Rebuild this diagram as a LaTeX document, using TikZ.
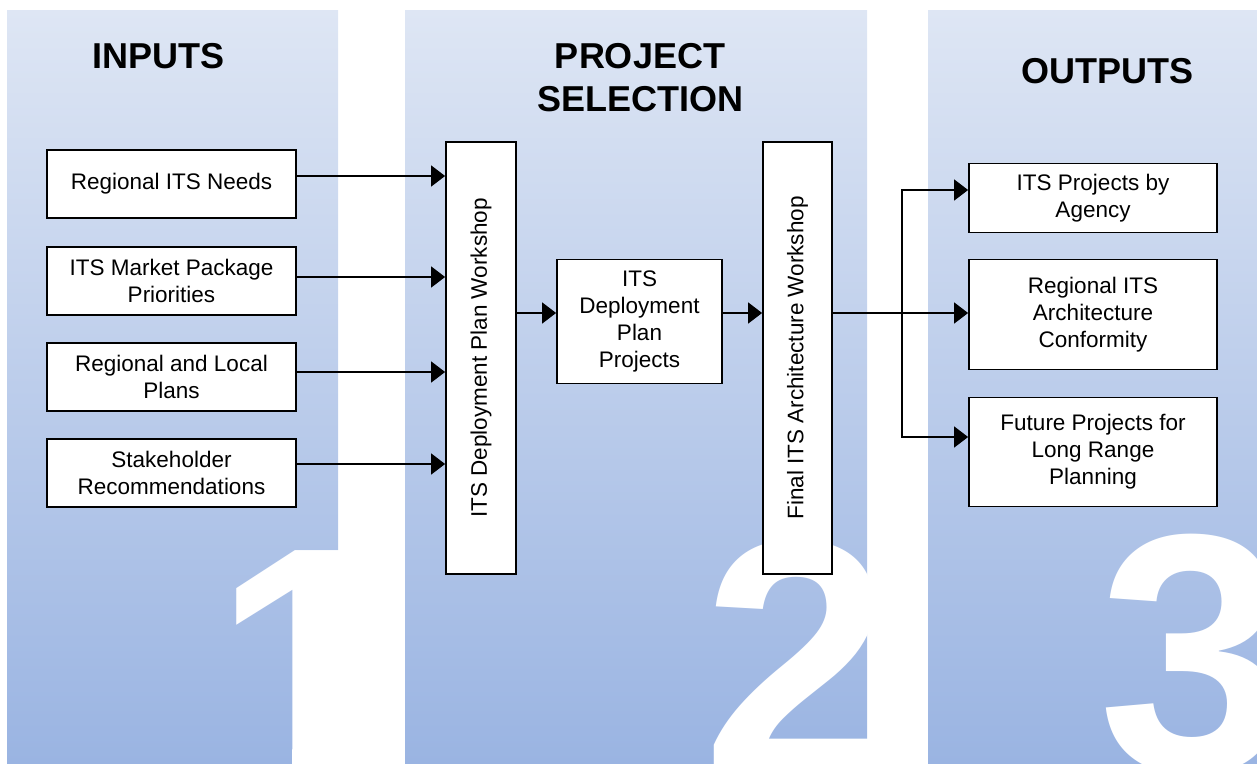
\documentclass[tikz,border=0pt]{standalone}
\usepackage{fontspec}
\setmainfont{Liberation Sans}
\usetikzlibrary{positioning}
\usetikzlibrary{calc}
\usetikzlibrary{arrows.meta}
\definecolor{coltop}{HTML}{DEE6F4}
\definecolor{colbot}{HTML}{9AB4E2}
\tikzset{every picture/.style={line width=1.5pt},
itembox/.style={draw,fill=white,line width=1.8pt,align=center,inner sep=0pt,font=\fontsize{22.5}{27}\selectfont},
arr/.style={-{Triangle[length=14pt,width=21pt]}},
hdr/.style={font=\fontsize{36}{43}\selectfont\bfseries,align=center,inner sep=0pt},
bignum/.style={white,font=\fontsize{340}{340}\selectfont\bfseries,inner sep=0pt,anchor=base west}}

\begin{document}
\begin{tikzpicture}[x=1pt, y=-1pt]
\useasboundingbox (0,0) rectangle (1257,763);
% three shaded columns
\foreach \l/\r in {7/338, 405/867, 928/1257} {
\shade [top color=coltop, bottom color=colbot] (\l,10) rectangle (\r,763);
}
\begin{scope}
\clip (7,10) rectangle (338,745) (292,745) rectangle (338,763);
\node [bignum] (num1) at (213,784) {1};
\end{scope}
\node [bignum] (num2) at (702,777) {2};
\node [bignum] (num3) at (1098,771) {3};
\node [hdr] (hin) at (158.5,56) {INPUTS};
\node [hdr] (hsel) at (640,77.5) {PROJECT\\SELECTION};
\node [hdr] (hout) at (1107,71) {OUTPUTS};
% inputs
\foreach \i/\y/\t in {1/184/{Regional ITS Needs}, 2/281/{ITS Market Package\\Priorities}, 3/377/{Regional and Local\\Plans}, 4/473/{Stakeholder\\Recommendations}} {
\node (in\i) at (171.5,\y) [itembox, minimum width=249pt, minimum height=68pt] {\t};
}
\node (ws1) at (481,358) [itembox, minimum width=70pt, minimum height=432pt] {\rotatebox{90}{ITS Deployment Plan Workshop}};
\node (mid) at (639.5,321.5) [itembox, minimum width=165pt, minimum height=124pt] {ITS\\Deployment\\Plan\\Projects};
\node (ws2) at (797.5,358) [itembox, minimum width=69pt, minimum height=432pt] {\rotatebox{90}{Final ITS Architecture Workshop}};
% outputs
\node (out1) at (1093,198) [itembox, minimum width=248pt, minimum height=69pt] {ITS Projects by\\Agency};
\node (out2) at (1093,314.5) [itembox, minimum width=248pt, minimum height=110pt] {Regional ITS\\Architecture\\Conformity};
\node (out3) at (1093,452) [itembox, minimum width=248pt, minimum height=109pt] {Future Projects for\\Long Range\\Planning};
\coordinate (trunk) at (902,313);
\foreach \i/\dy in {1/8, 2/4, 3/5, 4/9} {
\draw [arr] ([yshift=\dy pt]in\i.east) -- ([yshift=\dy pt]in\i.east -| ws1.west);
}
\draw [arr] (ws1.east |- trunk) -- (mid.west |- trunk);
\draw [arr] (mid.east |- trunk) -- (ws2.west |- trunk);
\draw [arr] (ws2.east |- trunk) -- (out2.west |- trunk);
\draw [arr] (trunk) |- ([yshift=8pt]out1.west);
\draw [arr] (trunk) |- ([yshift=15pt]out3.west);
\end{tikzpicture}
\end{document}
